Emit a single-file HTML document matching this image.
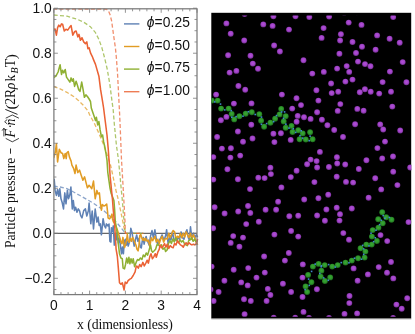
<!DOCTYPE html>
<html><head><meta charset="utf-8"><title>fig</title>
<style>
html,body{margin:0;padding:0;background:#fff;}
body{width:415px;height:334px;overflow:hidden;font-family:"Liberation Sans",sans-serif;}
svg{display:block;will-change:transform;}
.t{font-family:"Liberation Sans",sans-serif;font-size:13.8px;fill:#111;}
.s{font-family:"Liberation Serif",serif;fill:#111;}
</style></head><body>
<svg width="415" height="334" viewBox="0 0 415 334">
<defs>
<radialGradient id="gp" cx="50%" cy="45%" r="55%"><stop offset="0" stop-color="#b24fd8"/><stop offset="0.55" stop-color="#a345ca"/><stop offset="1" stop-color="#6f2c8c"/></radialGradient>
<radialGradient id="gg" cx="50%" cy="45%" r="55%"><stop offset="0" stop-color="#38a634"/><stop offset="0.55" stop-color="#2f982c"/><stop offset="1" stop-color="#1b621b"/></radialGradient>
<filter id="bl" x="-5%" y="-5%" width="110%" height="110%"><feGaussianBlur stdDeviation="0.35"/></filter>
<clipPath id="cp"><rect x="211.4" y="15.4" width="200" height="301.4"/></clipPath>
<clipPath id="cc"><rect x="53.9" y="8.2" width="144.9" height="286.4"/></clipPath>
</defs>
<rect width="415" height="334" fill="#fff"/>

<g fill="none" stroke-linejoin="round" stroke-linecap="butt" clip-path="url(#cc)">
<line x1="53.9" y1="233.3" x2="197.0" y2="233.3" stroke="#2b2b2b" stroke-width="0.9"/>
<path d="M53.7,186.1 L60.1,187.0 L66.9,188.7 L73.6,192.0 L80.4,195.8 L87.1,199.6 L93.8,203.5 L100.6,208.1 L102.8,209.8 L107.6,214.1 L112.5,218.4 L116.6,222.5 L120.9,227.5 L123.1,230.4 L125.5,233.3 L143.3,233.3" stroke="#5e81b5" stroke-width="1.3" stroke-dasharray="4 2.3" stroke-opacity="0.72"/>
<path d="M53.7,86.4 L60.1,88.9 L66.9,92.3 L73.6,96.5 L78.7,100.7 L83.7,105.7 L87.9,110.8 L89.6,114.7 L94.7,124.0 L98.9,133.3 L103.1,143.4 L106.5,152.7 L109.0,160.3 L110.2,163.6 L112.4,173.5 L114.9,185.3 L116.1,191.0 L117.8,197.7 L119.2,204.5 L120.7,211.2 L122.1,218.0 L123.8,226.8 L125.5,233.3 L143.3,233.3" stroke="#e19c24" stroke-width="1.3" stroke-dasharray="4 2.3" stroke-opacity="0.72"/>
<path d="M53.7,15.0 L66.9,16.1 L77.0,19.2 L83.7,22.2 L90.5,26.8 L95.5,32.7 L98.9,39.4 L101.9,47.8 L104.5,57.5 L107.3,69.5 L109.9,84.7 L111.6,98.2 L113.2,110.0 L114.4,124.9 L116.4,145.1 L118.5,160.0 L120.2,178.0 L121.3,190.0 L122.1,197.7 L122.9,207.3 L123.5,216.0 L124.2,221.8 L124.9,229.7 L125.5,233.3 L143.3,233.3" stroke="#8fb032" stroke-width="1.3" stroke-dasharray="4 2.3" stroke-opacity="0.72"/>
<path d="M53.1,9.0 L104.0,9.0 L106.5,9.3 L108.2,10.4 L110.0,14.5 L111.6,20.9 L113.7,36.0 L115.4,47.8 L116.3,57.0 L117.5,72.9 L118.8,98.2 L119.5,111.6 L120.2,127.0 L121.5,160.0 L123.3,190.0 L123.8,199.6 L124.5,211.2 L125.0,221.8 L125.4,233.3 L143.3,233.3" stroke="#eb6235" stroke-width="1.3" stroke-dasharray="4 2.3" stroke-opacity="0.72"/>
<path d="M53.7,182.0 L54.2,179.4 L55.1,190.4 L56.4,195.4 L57.6,189.5 L58.8,196.3 L59.8,188.7 L61.0,198.8 L62.1,202.2 L63.5,208.9 L64.8,192.9 L66.0,203.8 L67.4,190.4 L68.5,198.8 L69.9,194.6 L70.9,187.0 L72.3,208.9 L73.3,200.5 L74.5,210.6 L75.6,207.2 L77.0,212.3 L78.3,208.9 L79.5,210.6 L80.7,215.6 L82.0,217.9 L83.7,210.6 L85.4,208.9 L86.8,216.0 L88.4,210.6 L89.1,203.0 L90.8,223.8 L92.2,211.0 L93.5,228.9 L95.2,209.0 L96.9,222.1 L98.1,217.1 L99.2,225.5 L100.3,223.8 L101.4,234.8 L103.1,218.7 L104.3,225.5 L105.6,228.0 L106.4,223.9 L108.0,225.9 L109.0,224.0 L109.9,241.3 L110.9,242.0 L111.4,227.8 L112.3,231.6 L113.3,225.9 L114.3,245.1 L115.2,234.0 L116.2,240.0 L117.2,232.0 L118.3,243.0 L119.4,238.0 L120.5,246.1 L121.5,253.8 L122.5,247.0 L123.4,253.8 L124.4,241.3 L125.3,239.3 L126.3,245.1 L127.2,241.5 L128.2,246.1 L129.7,241.3 L130.8,228.3 L132.1,232.6 L133.3,241.3 L134.2,246.1 L135.5,239.3 L136.7,235.0 L137.9,241.3 L139.0,238.4 L140.3,247.1 L141.3,248.0 L142.2,241.3 L143.2,237.4 L144.1,244.2 L145.1,239.3 L146.1,236.5 L147.0,240.3 L148.0,242.2 L149.1,245.0 L150.5,236.3 L152.0,230.6 L153.4,237.8 L154.9,229.8 L156.3,239.2 L157.8,245.0 L159.2,240.7 L160.7,237.8 L162.1,234.9 L163.6,239.2 L164.5,239.1 L165.9,234.8 L166.6,229.7 L168.1,243.5 L169.5,237.7 L171.0,239.9 L172.4,231.9 L173.9,239.1 L175.3,239.9 L176.7,240.6 L178.2,237.7 L179.6,239.1 L181.1,231.9 L182.5,237.7 L184.0,239.1 L185.4,233.3 L186.9,229.7 L188.3,237.7 L189.3,239.9 L190.5,226.8 L191.9,239.1 L193.4,233.3 L194.8,237.7 L196.3,234.8 L197.7,237.0" stroke="#5e81b5" stroke-width="1.55"/>
<path d="M53.7,158.0 L54.2,156.1 L55.4,151.8 L56.4,143.7 L57.6,162.0 L59.3,149.3 L61.0,152.7 L62.6,153.5 L63.8,158.6 L65.2,153.5 L66.2,158.6 L66.9,152.7 L68.2,151.5 L69.4,156.9 L71.1,161.1 L71.9,165.1 L73.6,168.4 L75.0,173.5 L76.1,165.1 L77.8,172.6 L79.5,170.1 L81.2,175.2 L82.9,180.2 L84.6,176.9 L86.3,183.6 L87.4,187.8 L89.1,185.3 L90.5,187.0 L91.8,188.7 L93.5,181.1 L95.2,198.8 L96.9,190.4 L98.0,193.9 L99.4,192.9 L100.4,203.5 L101.4,210.2 L102.3,204.5 L103.8,205.9 L105.2,205.4 L106.7,204.0 L107.6,212.2 L108.1,218.0 L109.6,218.9 L111.0,216.5 L112.0,214.1 L112.5,218.9 L113.4,221.8 L115.1,223.9 L117.3,229.7 L119.1,235.5 L120.0,238.4 L121.0,242.2 L122.0,243.7 L122.9,237.4 L123.9,244.2 L124.6,247.5 L125.5,245.1 L126.5,240.3 L127.3,234.5 L128.2,240.8 L129.2,242.2 L130.4,238.4 L131.6,241.3 L132.6,237.4 L133.8,239.8 L134.8,242.7 L136.0,245.1 L136.9,249.0 L138.1,250.9 L139.0,245.1 L139.8,235.5 L140.8,234.5 L141.7,237.9 L142.9,240.3 L143.9,238.4 L144.8,240.8 L145.8,238.4 L146.7,240.8 L148.0,241.3 L148.4,240.0 L149.8,246.5 L151.3,237.8 L152.7,240.7 L154.9,236.3 L156.3,242.1 L157.8,239.2 L159.2,243.6 L160.7,239.2 L162.1,236.3 L163.6,242.1 L165.0,239.2 L165.9,238.4 L167.3,239.1 L168.8,233.3 L170.2,237.7 L171.7,234.1 L173.1,230.5 L174.6,231.9 L176.0,239.1 L177.5,236.2 L178.9,237.7 L180.4,233.3 L181.8,237.7 L183.3,233.3 L184.7,237.0 L186.1,231.9 L187.6,234.8 L189.0,237.7 L190.5,233.3 L191.9,239.1 L193.4,234.8 L194.8,237.7 L196.3,242.0 L197.7,244.9" stroke="#e19c24" stroke-width="1.55"/>
<path d="M53.7,77.6 L55.9,76.2 L58.1,72.0 L60.1,64.8 L61.5,74.5 L62.6,70.3 L63.8,72.9 L65.2,69.5 L66.5,77.1 L68.2,79.6 L69.9,82.1 L71.1,77.9 L72.3,81.3 L73.3,78.8 L74.6,86.4 L76.1,81.3 L77.5,85.5 L78.7,89.7 L80.0,91.4 L81.7,82.1 L83.1,89.7 L84.4,97.3 L85.9,94.8 L87.4,96.5 L89.1,99.0 L90.5,101.5 L91.3,108.0 L94.2,116.4 L95.5,120.6 L96.4,117.3 L97.7,124.9 L98.9,121.5 L100.1,129.9 L101.4,136.7 L102.6,135.0 L103.6,141.7 L104.8,146.8 L106.0,153.5 L107.0,160.3 L107.8,172.5 L110.0,188.0 L111.2,193.5 L112.8,197.5 L113.9,200.6 L114.6,209.3 L115.3,221.8 L116.6,228.9 L117.5,236.0 L118.3,243.6 L119.5,253.7 L120.9,258.0 L122.3,258.7 L123.1,268.1 L124.5,268.9 L125.5,264.5 L126.7,258.0 L127.8,263.1 L128.9,257.3 L129.9,263.8 L131.0,258.7 L132.2,263.1 L133.2,258.7 L134.6,266.7 L136.1,262.4 L137.5,259.5 L139.0,260.2 L140.4,258.0 L141.9,259.5 L143.3,255.1 L144.8,256.6 L146.2,253.0 L147.6,255.1 L149.1,250.1 L150.5,245.0 L151.6,250.8 L152.7,252.2 L154.2,250.8 L155.6,249.3 L156.9,244.9 L158.0,244.2 L159.9,246.5 L161.6,244.9 L163.0,249.3 L164.5,247.8 L165.6,251.4 L167.1,250.0 L168.5,243.5 L170.0,240.6 L171.4,243.5 L172.8,239.1 L174.3,242.0 L175.7,237.7 L177.2,240.6 L178.6,242.7 L180.1,239.9 L181.5,242.0 L183.0,240.6 L184.4,243.5 L185.9,244.9 L187.3,245.6 L188.7,240.6 L190.2,239.9 L191.6,237.7 L193.1,241.3 L194.5,239.1 L196.0,242.0 L197.4,240.6" stroke="#8fb032" stroke-width="1.55"/>
<path d="M53.7,29.3 L55.1,29.0 L56.4,35.2 L57.6,27.6 L58.8,25.1 L60.1,26.8 L61.5,23.9 L62.6,24.2 L64.3,31.0 L66.0,29.3 L67.7,30.1 L69.4,27.6 L71.1,25.6 L72.8,35.2 L74.5,31.8 L76.1,31.0 L77.8,36.9 L79.0,34.4 L80.4,40.3 L82.0,37.7 L83.7,41.9 L85.4,43.6 L86.8,41.9 L87.9,48.7 L89.1,47.8 L90.5,52.9 L92.2,56.3 L93.5,59.6 L95.5,64.4 L98.9,76.2 L100.6,89.7 L102.3,99.8 L103.6,108.0 L105.3,121.5 L107.0,135.0 L108.2,148.5 L109.3,163.6 L110.2,176.9 L111.7,192.0 L112.5,199.6 L113.2,209.3 L114.4,221.8 L114.9,228.9 L116.1,249.1 L117.3,256.0 L118.3,267.6 L119.5,282.7 L120.9,284.2 L122.3,282.7 L124.1,290.0 L125.2,282.0 L126.7,283.5 L128.1,280.6 L129.9,279.1 L131.3,278.4 L133.2,275.5 L135.1,271.9 L136.1,266.8 L136.8,266.0 L138.3,268.1 L139.7,264.5 L141.1,266.7 L142.9,262.4 L144.3,266.0 L145.8,263.1 L147.2,260.2 L148.4,263.1 L149.8,256.6 L151.0,253.7 L152.4,258.7 L153.9,256.6 L155.3,253.7 L156.3,257.3 L157.8,252.2 L159.2,249.3 L160.1,244.9 L161.6,247.8 L163.0,246.5 L164.5,243.5 L165.9,247.1 L167.3,244.2 L168.8,248.5 L170.2,245.6 L171.7,247.1 L173.1,247.8 L174.6,243.5 L176.0,244.9 L177.5,240.6 L178.9,242.7 L180.4,244.9 L181.8,245.6 L183.3,247.1 L184.7,244.2 L186.1,242.7 L187.6,244.9 L189.0,242.7 L190.5,244.2 L191.9,244.9 L193.4,244.2 L194.8,244.9 L196.3,243.5 L197.7,239.1" stroke="#eb6235" stroke-width="1.55"/>
</g>
<g stroke="#7a7a7a" stroke-width="0.8" fill="none">
<rect x="53.9" y="8.8" width="143.1" height="285.8" stroke-width="1.25"/>
<path d="M53.80,294.6 v-4.0 M53.80,8.8 v4.0 M60.96,294.6 v-2.5 M60.96,8.8 v2.5 M68.12,294.6 v-2.5 M68.12,8.8 v2.5 M75.28,294.6 v-2.5 M75.28,8.8 v2.5 M82.44,294.6 v-2.5 M82.44,8.8 v2.5 M89.60,294.6 v-4.0 M89.60,8.8 v4.0 M96.76,294.6 v-2.5 M96.76,8.8 v2.5 M103.92,294.6 v-2.5 M103.92,8.8 v2.5 M111.08,294.6 v-2.5 M111.08,8.8 v2.5 M118.24,294.6 v-2.5 M118.24,8.8 v2.5 M125.40,294.6 v-4.0 M125.40,8.8 v4.0 M132.56,294.6 v-2.5 M132.56,8.8 v2.5 M139.72,294.6 v-2.5 M139.72,8.8 v2.5 M146.88,294.6 v-2.5 M146.88,8.8 v2.5 M154.04,294.6 v-2.5 M154.04,8.8 v2.5 M161.20,294.6 v-4.0 M161.20,8.8 v4.0 M168.36,294.6 v-2.5 M168.36,8.8 v2.5 M175.52,294.6 v-2.5 M175.52,8.8 v2.5 M182.68,294.6 v-2.5 M182.68,8.8 v2.5 M189.84,294.6 v-2.5 M189.84,8.8 v2.5 M197.00,294.6 v-4.0 M197.00,8.8 v4.0 M53.9,289.57 h2.5 M197.0,289.57 h-2.5 M53.9,278.32 h4.0 M197.0,278.32 h-4.0 M53.9,267.06 h2.5 M197.0,267.06 h-2.5 M53.9,255.81 h2.5 M197.0,255.81 h-2.5 M53.9,244.56 h2.5 M197.0,244.56 h-2.5 M53.9,233.30 h4.0 M197.0,233.30 h-4.0 M53.9,222.05 h2.5 M197.0,222.05 h-2.5 M53.9,210.79 h2.5 M197.0,210.79 h-2.5 M53.9,199.53 h2.5 M197.0,199.53 h-2.5 M53.9,188.28 h4.0 M197.0,188.28 h-4.0 M53.9,177.03 h2.5 M197.0,177.03 h-2.5 M53.9,165.77 h2.5 M197.0,165.77 h-2.5 M53.9,154.51 h2.5 M197.0,154.51 h-2.5 M53.9,143.26 h4.0 M197.0,143.26 h-4.0 M53.9,132.00 h2.5 M197.0,132.00 h-2.5 M53.9,120.75 h2.5 M197.0,120.75 h-2.5 M53.9,109.50 h2.5 M197.0,109.50 h-2.5 M53.9,98.24 h4.0 M197.0,98.24 h-4.0 M53.9,86.99 h2.5 M197.0,86.99 h-2.5 M53.9,75.73 h2.5 M197.0,75.73 h-2.5 M53.9,64.48 h2.5 M197.0,64.48 h-2.5 M53.9,53.22 h4.0 M197.0,53.22 h-4.0 M53.9,41.97 h2.5 M197.0,41.97 h-2.5 M53.9,30.71 h2.5 M197.0,30.71 h-2.5 M53.9,19.46 h2.5 M197.0,19.46 h-2.5 M53.9,8.20 h4.0 M197.0,8.20 h-4.0"/>
</g>
<text class="t" x="51.7" y="12.5" text-anchor="end">1.0</text>
<text class="t" x="51.7" y="57.5" text-anchor="end">0.8</text>
<text class="t" x="51.7" y="102.5" text-anchor="end">0.6</text>
<text class="t" x="51.7" y="147.6" text-anchor="end">0.4</text>
<text class="t" x="51.7" y="192.6" text-anchor="end">0.2</text>
<text class="t" x="51.7" y="237.6" text-anchor="end">0.0</text>
<text class="t" x="51.7" y="282.6" text-anchor="end">−0.2</text>
<text class="t" x="53.8" y="310.1" text-anchor="middle">0</text>
<text class="t" x="89.6" y="310.1" text-anchor="middle">1</text>
<text class="t" x="125.4" y="310.1" text-anchor="middle">2</text>
<text class="t" x="161.2" y="310.1" text-anchor="middle">3</text>
<text class="t" x="197.0" y="310.1" text-anchor="middle">4</text>
<text class="s" x="125" y="329" text-anchor="middle" font-size="13.8" textLength="95.8" lengthAdjust="spacing">x (dimensionless)</text>
<g transform="translate(14.9,248) rotate(-90)" font-family="Liberation Serif" font-size="13.7" fill="#111">
<text class="s" x="0" y="0" textLength="90.3" lengthAdjust="spacing">Particle pressure</text>
<path d="M94.3,-4.4 H99.5" stroke="#111" stroke-width="0.9" fill="none"/>
<path d="M109.6,-9.2 L106.2,-2.6 L109.6,4.0" stroke="#111" stroke-width="0.8" fill="none"/>
<text class="s" x="110.6" y="0" font-style="italic">F</text>
<path d="M111.6,-11 H119.6 M117.4,-12.8 L119.8,-11 L117.4,-9.2" stroke="#111" stroke-width="0.8" fill="none"/>
<text class="s" x="119.4" y="0">·</text>
<text class="s" x="122.6" y="0" font-style="italic">n</text>
<path d="M124.0,-7.6 L126.3,-10.2 L128.6,-7.6" stroke="#111" stroke-width="0.8" fill="none"/>
<path d="M129.8,-9.2 L133.0,-2.6 L129.8,4.0" stroke="#111" stroke-width="0.8" fill="none"/>
<path d="M133.6,2.6 L138.6,-9.6" stroke="#111" stroke-width="0.9" fill="none"/>
<text class="s" x="138.4" y="0.8" font-size="15.5">(</text>
<text class="s" x="143.2" y="0">2</text>
<text class="s" x="149.9" y="0">R</text>
<text class="s" x="158.8" y="0" font-style="italic">ρ</text>
<text class="s" x="166.6" y="0">k</text>
<text class="s" x="174.6" y="3.2" font-size="10" font-style="italic">B</text>
<text class="s" x="180.8" y="0">T</text>
<text class="s" x="188.8" y="0.8" font-size="15.5">)</text>
</g>
<line x1="124" y1="23.9" x2="139.4" y2="23.9" stroke="#5e81b5" stroke-width="1.4"/>
<text class="t" x="146.8" y="26.9" textLength="43.2" lengthAdjust="spacing"><tspan font-style="italic">ϕ</tspan>=0.25</text>
<line x1="124" y1="46.5" x2="139.4" y2="46.5" stroke="#e19c24" stroke-width="1.4"/>
<text class="t" x="146.8" y="49.5" textLength="43.2" lengthAdjust="spacing"><tspan font-style="italic">ϕ</tspan>=0.50</text>
<line x1="124" y1="69.1" x2="139.4" y2="69.1" stroke="#8fb032" stroke-width="1.4"/>
<text class="t" x="146.8" y="72.1" textLength="43.2" lengthAdjust="spacing"><tspan font-style="italic">ϕ</tspan>=0.75</text>
<line x1="124" y1="91.7" x2="139.4" y2="91.7" stroke="#ee7c55" stroke-width="1.4"/>
<text class="t" x="146.8" y="94.7" textLength="43.2" lengthAdjust="spacing"><tspan font-style="italic">ϕ</tspan>=1.00</text>
<rect x="211.3" y="12.8" width="199.9" height="305.8" fill="#000"/><line x1="211.3" y1="319.1" x2="411.4" y2="319.1" stroke="#b5b5b5" stroke-width="0.8"/>
<g clip-path="url(#cp)">
<g filter="url(#bl)">
<circle cx="226.4" cy="23.4" r="2.95" fill="url(#gp)"/>
<circle cx="244.6" cy="14.0" r="2.95" fill="url(#gp)"/>
<circle cx="263.3" cy="24.4" r="2.95" fill="url(#gp)"/>
<circle cx="272.6" cy="25.9" r="2.95" fill="url(#gp)"/>
<circle cx="273.4" cy="16.3" r="2.95" fill="url(#gp)"/>
<circle cx="295.5" cy="16.3" r="2.95" fill="url(#gp)"/>
<circle cx="289.0" cy="29.6" r="2.95" fill="url(#gp)"/>
<circle cx="230.7" cy="33.7" r="2.95" fill="url(#gp)"/>
<circle cx="244.2" cy="40.5" r="2.95" fill="url(#gp)"/>
<circle cx="274.1" cy="45.5" r="2.95" fill="url(#gp)"/>
<circle cx="279.9" cy="51.5" r="2.95" fill="url(#gp)"/>
<circle cx="228.1" cy="55.3" r="2.95" fill="url(#gp)"/>
<circle cx="250.5" cy="55.8" r="2.95" fill="url(#gp)"/>
<circle cx="252.8" cy="63.6" r="2.95" fill="url(#gp)"/>
<circle cx="258.0" cy="68.8" r="2.95" fill="url(#gp)"/>
<circle cx="236.4" cy="70.9" r="2.95" fill="url(#gp)"/>
<circle cx="229.6" cy="72.6" r="2.95" fill="url(#gp)"/>
<circle cx="303.5" cy="60.3" r="2.95" fill="url(#gp)"/>
<circle cx="329.1" cy="16.6" r="2.95" fill="url(#gp)"/>
<circle cx="344.2" cy="12.6" r="2.95" fill="url(#gp)"/>
<circle cx="356.9" cy="12.2" r="2.95" fill="url(#gp)"/>
<circle cx="393.2" cy="17.1" r="2.95" fill="url(#gp)"/>
<circle cx="348.7" cy="22.6" r="2.95" fill="url(#gp)"/>
<circle cx="361.5" cy="24.9" r="2.95" fill="url(#gp)"/>
<circle cx="323.6" cy="28.1" r="2.95" fill="url(#gp)"/>
<circle cx="340.9" cy="34.2" r="2.95" fill="url(#gp)"/>
<circle cx="377.1" cy="35.4" r="2.95" fill="url(#gp)"/>
<circle cx="321.6" cy="37.9" r="2.95" fill="url(#gp)"/>
<circle cx="340.1" cy="40.5" r="2.95" fill="url(#gp)"/>
<circle cx="352.5" cy="42.0" r="2.95" fill="url(#gp)"/>
<circle cx="389.6" cy="38.7" r="2.95" fill="url(#gp)"/>
<circle cx="399.7" cy="42.7" r="2.95" fill="url(#gp)"/>
<circle cx="362.0" cy="46.7" r="2.95" fill="url(#gp)"/>
<circle cx="375.6" cy="49.7" r="2.95" fill="url(#gp)"/>
<circle cx="339.4" cy="53.8" r="2.95" fill="url(#gp)"/>
<circle cx="356.0" cy="53.0" r="2.95" fill="url(#gp)"/>
<circle cx="358.0" cy="61.6" r="2.95" fill="url(#gp)"/>
<circle cx="365.0" cy="64.1" r="2.95" fill="url(#gp)"/>
<circle cx="370.5" cy="66.3" r="2.95" fill="url(#gp)"/>
<circle cx="402.7" cy="62.1" r="2.95" fill="url(#gp)"/>
<circle cx="346.7" cy="66.1" r="2.95" fill="url(#gp)"/>
<circle cx="337.1" cy="68.6" r="2.95" fill="url(#gp)"/>
<circle cx="349.2" cy="71.9" r="2.95" fill="url(#gp)"/>
<circle cx="323.8" cy="71.9" r="2.95" fill="url(#gp)"/>
<circle cx="312.3" cy="73.6" r="2.95" fill="url(#gp)"/>
<circle cx="389.9" cy="71.6" r="2.95" fill="url(#gp)"/>
<circle cx="352.5" cy="79.6" r="2.95" fill="url(#gp)"/>
<circle cx="345.4" cy="81.6" r="2.95" fill="url(#gp)"/>
<circle cx="331.1" cy="83.5" r="2.95" fill="url(#gp)"/>
<circle cx="382.6" cy="82.1" r="2.95" fill="url(#gp)"/>
<circle cx="406.4" cy="82.2" r="2.95" fill="url(#gp)"/>
<circle cx="309.3" cy="17.0" r="2.95" fill="url(#gp)"/>
<circle cx="238.4" cy="86.0" r="2.95" fill="url(#gp)"/>
<circle cx="245.2" cy="89.8" r="2.95" fill="url(#gp)"/>
<circle cx="216.1" cy="94.6" r="2.95" fill="url(#gp)"/>
<circle cx="281.9" cy="94.6" r="2.95" fill="url(#gp)"/>
<circle cx="296.5" cy="98.3" r="2.95" fill="url(#gp)"/>
<circle cx="301.0" cy="105.1" r="2.95" fill="url(#gp)"/>
<circle cx="233.9" cy="103.6" r="2.95" fill="url(#gp)"/>
<circle cx="251.5" cy="103.4" r="2.95" fill="url(#gp)"/>
<circle cx="292.2" cy="108.6" r="2.95" fill="url(#gp)"/>
<circle cx="226.4" cy="116.9" r="2.95" fill="url(#gp)"/>
<circle cx="220.9" cy="120.2" r="2.95" fill="url(#gp)"/>
<circle cx="297.7" cy="115.9" r="2.95" fill="url(#gp)"/>
<circle cx="304.0" cy="117.2" r="2.95" fill="url(#gp)"/>
<circle cx="296.6" cy="121.7" r="2.95" fill="url(#gp)"/>
<circle cx="251.3" cy="124.7" r="2.95" fill="url(#gp)"/>
<circle cx="237.9" cy="131.5" r="2.95" fill="url(#gp)"/>
<circle cx="217.1" cy="137.0" r="2.95" fill="url(#gp)"/>
<circle cx="252.5" cy="138.5" r="2.95" fill="url(#gp)"/>
<circle cx="243.0" cy="141.8" r="2.95" fill="url(#gp)"/>
<circle cx="273.4" cy="133.8" r="2.95" fill="url(#gp)"/>
<circle cx="280.9" cy="133.3" r="2.95" fill="url(#gp)"/>
<circle cx="274.4" cy="142.1" r="2.95" fill="url(#gp)"/>
<circle cx="290.7" cy="139.9" r="2.95" fill="url(#gp)"/>
<circle cx="221.9" cy="148.6" r="2.95" fill="url(#gp)"/>
<circle cx="230.9" cy="148.3" r="2.95" fill="url(#gp)"/>
<circle cx="240.2" cy="155.6" r="2.95" fill="url(#gp)"/>
<circle cx="230.4" cy="157.6" r="2.95" fill="url(#gp)"/>
<circle cx="213.3" cy="157.1" r="2.95" fill="url(#gp)"/>
<circle cx="316.4" cy="90.3" r="2.95" fill="url(#gp)"/>
<circle cx="331.7" cy="93.1" r="2.95" fill="url(#gp)"/>
<circle cx="338.2" cy="91.8" r="2.95" fill="url(#gp)"/>
<circle cx="364.9" cy="89.3" r="2.95" fill="url(#gp)"/>
<circle cx="359.8" cy="92.3" r="2.95" fill="url(#gp)"/>
<circle cx="370.7" cy="91.8" r="2.95" fill="url(#gp)"/>
<circle cx="379.2" cy="93.6" r="2.95" fill="url(#gp)"/>
<circle cx="391.0" cy="91.8" r="2.95" fill="url(#gp)"/>
<circle cx="318.4" cy="100.6" r="2.95" fill="url(#gp)"/>
<circle cx="340.3" cy="104.1" r="2.95" fill="url(#gp)"/>
<circle cx="337.7" cy="110.9" r="2.95" fill="url(#gp)"/>
<circle cx="357.3" cy="108.9" r="2.95" fill="url(#gp)"/>
<circle cx="363.6" cy="110.7" r="2.95" fill="url(#gp)"/>
<circle cx="392.3" cy="106.6" r="2.95" fill="url(#gp)"/>
<circle cx="317.1" cy="112.2" r="2.95" fill="url(#gp)"/>
<circle cx="310.6" cy="118.9" r="2.95" fill="url(#gp)"/>
<circle cx="321.9" cy="119.7" r="2.95" fill="url(#gp)"/>
<circle cx="327.4" cy="125.2" r="2.95" fill="url(#gp)"/>
<circle cx="334.2" cy="130.0" r="2.95" fill="url(#gp)"/>
<circle cx="355.1" cy="124.2" r="2.95" fill="url(#gp)"/>
<circle cx="380.2" cy="124.5" r="2.95" fill="url(#gp)"/>
<circle cx="383.2" cy="129.5" r="2.95" fill="url(#gp)"/>
<circle cx="343.0" cy="137.0" r="2.95" fill="url(#gp)"/>
<circle cx="385.0" cy="141.6" r="2.95" fill="url(#gp)"/>
<circle cx="377.4" cy="148.1" r="2.95" fill="url(#gp)"/>
<circle cx="319.9" cy="151.9" r="2.95" fill="url(#gp)"/>
<circle cx="336.9" cy="157.2" r="2.95" fill="url(#gp)"/>
<circle cx="310.6" cy="159.6" r="2.95" fill="url(#gp)"/>
<circle cx="316.6" cy="161.1" r="2.95" fill="url(#gp)"/>
<circle cx="307.1" cy="164.2" r="2.95" fill="url(#gp)"/>
<circle cx="366.4" cy="160.3" r="2.95" fill="url(#gp)"/>
<circle cx="382.2" cy="158.5" r="2.95" fill="url(#gp)"/>
<circle cx="393.0" cy="156.5" r="2.95" fill="url(#gp)"/>
<circle cx="337.2" cy="163.5" r="2.95" fill="url(#gp)"/>
<circle cx="345.2" cy="164.5" r="2.95" fill="url(#gp)"/>
<circle cx="400.2" cy="130.5" r="2.95" fill="url(#gp)"/>
<circle cx="227.4" cy="169.3" r="2.95" fill="url(#gp)"/>
<circle cx="270.4" cy="167.8" r="2.95" fill="url(#gp)"/>
<circle cx="270.9" cy="174.1" r="2.95" fill="url(#gp)"/>
<circle cx="296.6" cy="170.8" r="2.95" fill="url(#gp)"/>
<circle cx="290.8" cy="177.1" r="2.95" fill="url(#gp)"/>
<circle cx="213.3" cy="179.6" r="2.95" fill="url(#gp)"/>
<circle cx="237.9" cy="179.3" r="2.95" fill="url(#gp)"/>
<circle cx="258.3" cy="177.8" r="2.95" fill="url(#gp)"/>
<circle cx="264.6" cy="178.1" r="2.95" fill="url(#gp)"/>
<circle cx="281.4" cy="187.4" r="2.95" fill="url(#gp)"/>
<circle cx="250.0" cy="189.1" r="2.95" fill="url(#gp)"/>
<circle cx="278.1" cy="201.7" r="2.95" fill="url(#gp)"/>
<circle cx="304.2" cy="199.5" r="2.95" fill="url(#gp)"/>
<circle cx="214.6" cy="207.2" r="2.95" fill="url(#gp)"/>
<circle cx="248.0" cy="206.0" r="2.95" fill="url(#gp)"/>
<circle cx="224.6" cy="213.5" r="2.95" fill="url(#gp)"/>
<circle cx="238.2" cy="211.5" r="2.95" fill="url(#gp)"/>
<circle cx="250.3" cy="213.0" r="2.95" fill="url(#gp)"/>
<circle cx="265.6" cy="209.7" r="2.95" fill="url(#gp)"/>
<circle cx="276.1" cy="209.7" r="2.95" fill="url(#gp)"/>
<circle cx="289.3" cy="216.3" r="2.95" fill="url(#gp)"/>
<circle cx="298.2" cy="215.7" r="2.95" fill="url(#gp)"/>
<circle cx="246.2" cy="224.1" r="2.95" fill="url(#gp)"/>
<circle cx="258.8" cy="221.8" r="2.95" fill="url(#gp)"/>
<circle cx="213.1" cy="228.3" r="2.95" fill="url(#gp)"/>
<circle cx="291.1" cy="231.0" r="2.95" fill="url(#gp)"/>
<circle cx="274.4" cy="234.6" r="2.95" fill="url(#gp)"/>
<circle cx="298.2" cy="236.6" r="2.95" fill="url(#gp)"/>
<circle cx="233.2" cy="236.1" r="2.95" fill="url(#gp)"/>
<circle cx="243.0" cy="237.6" r="2.95" fill="url(#gp)"/>
<circle cx="230.7" cy="242.9" r="2.95" fill="url(#gp)"/>
<circle cx="239.4" cy="246.7" r="2.95" fill="url(#gp)"/>
<circle cx="317.1" cy="167.5" r="2.95" fill="url(#gp)"/>
<circle cx="328.9" cy="167.0" r="2.95" fill="url(#gp)"/>
<circle cx="358.8" cy="169.0" r="2.95" fill="url(#gp)"/>
<circle cx="393.2" cy="171.8" r="2.95" fill="url(#gp)"/>
<circle cx="336.7" cy="176.8" r="2.95" fill="url(#gp)"/>
<circle cx="375.2" cy="178.3" r="2.95" fill="url(#gp)"/>
<circle cx="314.4" cy="182.1" r="2.95" fill="url(#gp)"/>
<circle cx="346.0" cy="181.9" r="2.95" fill="url(#gp)"/>
<circle cx="353.1" cy="182.6" r="2.95" fill="url(#gp)"/>
<circle cx="381.2" cy="189.4" r="2.95" fill="url(#gp)"/>
<circle cx="328.2" cy="194.7" r="2.95" fill="url(#gp)"/>
<circle cx="318.4" cy="198.2" r="2.95" fill="url(#gp)"/>
<circle cx="368.6" cy="197.7" r="2.95" fill="url(#gp)"/>
<circle cx="326.4" cy="209.5" r="2.95" fill="url(#gp)"/>
<circle cx="336.7" cy="207.7" r="2.95" fill="url(#gp)"/>
<circle cx="351.8" cy="208.5" r="2.95" fill="url(#gp)"/>
<circle cx="340.0" cy="214.3" r="2.95" fill="url(#gp)"/>
<circle cx="317.1" cy="215.5" r="2.95" fill="url(#gp)"/>
<circle cx="324.9" cy="220.8" r="2.95" fill="url(#gp)"/>
<circle cx="339.5" cy="220.6" r="2.95" fill="url(#gp)"/>
<circle cx="343.3" cy="233.1" r="2.95" fill="url(#gp)"/>
<circle cx="349.0" cy="239.8" r="2.95" fill="url(#gp)"/>
<circle cx="380.5" cy="235.1" r="2.95" fill="url(#gp)"/>
<circle cx="387.2" cy="241.1" r="2.95" fill="url(#gp)"/>
<circle cx="397.4" cy="185.1" r="2.95" fill="url(#gp)"/>
<circle cx="410.2" cy="167.5" r="2.95" fill="url(#gp)"/>
<circle cx="408.5" cy="222.1" r="2.95" fill="url(#gp)"/>
<circle cx="264.1" cy="256.5" r="2.95" fill="url(#gp)"/>
<circle cx="288.8" cy="253.0" r="2.95" fill="url(#gp)"/>
<circle cx="284.9" cy="260.6" r="2.95" fill="url(#gp)"/>
<circle cx="302.8" cy="264.4" r="2.95" fill="url(#gp)"/>
<circle cx="211.6" cy="266.6" r="2.95" fill="url(#gp)"/>
<circle cx="233.7" cy="269.8" r="2.95" fill="url(#gp)"/>
<circle cx="248.2" cy="268.1" r="2.95" fill="url(#gp)"/>
<circle cx="264.8" cy="272.6" r="2.95" fill="url(#gp)"/>
<circle cx="256.5" cy="277.6" r="2.95" fill="url(#gp)"/>
<circle cx="224.4" cy="280.7" r="2.95" fill="url(#gp)"/>
<circle cx="241.2" cy="282.4" r="2.95" fill="url(#gp)"/>
<circle cx="247.7" cy="285.4" r="2.95" fill="url(#gp)"/>
<circle cx="282.9" cy="283.7" r="2.95" fill="url(#gp)"/>
<circle cx="302.5" cy="277.6" r="2.95" fill="url(#gp)"/>
<circle cx="267.8" cy="288.9" r="2.95" fill="url(#gp)"/>
<circle cx="210.5" cy="289.4" r="2.95" fill="url(#gp)"/>
<circle cx="218.6" cy="292.0" r="2.95" fill="url(#gp)"/>
<circle cx="291.1" cy="292.0" r="2.95" fill="url(#gp)"/>
<circle cx="270.4" cy="295.0" r="2.95" fill="url(#gp)"/>
<circle cx="302.5" cy="297.0" r="2.95" fill="url(#gp)"/>
<circle cx="213.6" cy="301.0" r="2.95" fill="url(#gp)"/>
<circle cx="244.0" cy="299.2" r="2.95" fill="url(#gp)"/>
<circle cx="250.8" cy="301.0" r="2.95" fill="url(#gp)"/>
<circle cx="266.6" cy="301.0" r="2.95" fill="url(#gp)"/>
<circle cx="244.6" cy="314.3" r="2.95" fill="url(#gp)"/>
<circle cx="273.7" cy="317.8" r="2.95" fill="url(#gp)"/>
<circle cx="295.2" cy="317.8" r="2.95" fill="url(#gp)"/>
<circle cx="303.5" cy="311.9" r="2.95" fill="url(#gp)"/>
<circle cx="391.0" cy="262.0" r="2.95" fill="url(#gp)"/>
<circle cx="378.7" cy="267.1" r="2.95" fill="url(#gp)"/>
<circle cx="353.6" cy="268.4" r="2.95" fill="url(#gp)"/>
<circle cx="367.9" cy="274.4" r="2.95" fill="url(#gp)"/>
<circle cx="387.0" cy="272.7" r="2.95" fill="url(#gp)"/>
<circle cx="393.3" cy="278.4" r="2.95" fill="url(#gp)"/>
<circle cx="357.6" cy="280.7" r="2.95" fill="url(#gp)"/>
<circle cx="316.9" cy="289.2" r="2.95" fill="url(#gp)"/>
<circle cx="349.5" cy="296.0" r="2.95" fill="url(#gp)"/>
<circle cx="349.3" cy="303.1" r="2.95" fill="url(#gp)"/>
<circle cx="309.0" cy="317.9" r="2.95" fill="url(#gp)"/>
<circle cx="329.0" cy="318.0" r="2.95" fill="url(#gp)"/>
<circle cx="344.5" cy="313.9" r="2.95" fill="url(#gp)"/>
<circle cx="357.1" cy="313.4" r="2.95" fill="url(#gp)"/>
<circle cx="393.1" cy="318.0" r="2.95" fill="url(#gp)"/>
<circle cx="396.4" cy="304.6" r="2.95" fill="url(#gp)"/>
<circle cx="401.7" cy="308.8" r="2.95" fill="url(#gp)"/>
<circle cx="407.2" cy="298.3" r="2.95" fill="url(#gp)"/>
<circle cx="211.8" cy="100.6" r="2.95" fill="url(#gg)"/>
<circle cx="217.6" cy="100.6" r="2.95" fill="url(#gg)"/>
<circle cx="221.1" cy="108.6" r="2.95" fill="url(#gg)"/>
<circle cx="228.6" cy="108.6" r="2.95" fill="url(#gg)"/>
<circle cx="231.7" cy="113.9" r="2.95" fill="url(#gg)"/>
<circle cx="234.2" cy="119.4" r="2.95" fill="url(#gg)"/>
<circle cx="239.4" cy="116.2" r="2.95" fill="url(#gg)"/>
<circle cx="245.7" cy="113.7" r="2.95" fill="url(#gg)"/>
<circle cx="251.8" cy="112.2" r="2.95" fill="url(#gg)"/>
<circle cx="259.3" cy="114.2" r="2.95" fill="url(#gg)"/>
<circle cx="261.1" cy="120.7" r="2.95" fill="url(#gg)"/>
<circle cx="264.1" cy="126.7" r="2.95" fill="url(#gg)"/>
<circle cx="270.4" cy="122.7" r="2.95" fill="url(#gg)"/>
<circle cx="275.1" cy="118.7" r="2.95" fill="url(#gg)"/>
<circle cx="279.6" cy="114.4" r="2.95" fill="url(#gg)"/>
<circle cx="281.2" cy="108.9" r="2.95" fill="url(#gg)"/>
<circle cx="285.7" cy="116.2" r="2.95" fill="url(#gg)"/>
<circle cx="283.7" cy="121.5" r="2.95" fill="url(#gg)"/>
<circle cx="285.7" cy="127.7" r="2.95" fill="url(#gg)"/>
<circle cx="291.5" cy="126.0" r="2.95" fill="url(#gg)"/>
<circle cx="292.5" cy="132.0" r="2.95" fill="url(#gg)"/>
<circle cx="298.2" cy="130.3" r="2.95" fill="url(#gg)"/>
<circle cx="302.7" cy="133.4" r="2.95" fill="url(#gg)"/>
<circle cx="299.6" cy="139.3" r="2.95" fill="url(#gg)"/>
<circle cx="305.8" cy="139.5" r="2.95" fill="url(#gg)"/>
<circle cx="312.6" cy="139.3" r="2.95" fill="url(#gg)"/>
<circle cx="310.1" cy="132.3" r="2.95" fill="url(#gg)"/>
<circle cx="382.2" cy="212.3" r="2.95" fill="url(#gg)"/>
<circle cx="386.2" cy="217.3" r="2.95" fill="url(#gg)"/>
<circle cx="391.5" cy="219.8" r="2.95" fill="url(#gg)"/>
<circle cx="378.2" cy="219.3" r="2.95" fill="url(#gg)"/>
<circle cx="382.7" cy="223.3" r="2.95" fill="url(#gg)"/>
<circle cx="378.4" cy="227.8" r="2.95" fill="url(#gg)"/>
<circle cx="372.7" cy="230.1" r="2.95" fill="url(#gg)"/>
<circle cx="371.9" cy="236.6" r="2.95" fill="url(#gg)"/>
<circle cx="376.9" cy="241.0" r="2.95" fill="url(#gg)"/>
<circle cx="371.7" cy="244.6" r="2.95" fill="url(#gg)"/>
<circle cx="366.3" cy="244.6" r="2.95" fill="url(#gg)"/>
<circle cx="360.6" cy="248.3" r="2.95" fill="url(#gg)"/>
<circle cx="365.4" cy="251.6" r="2.95" fill="url(#gg)"/>
<circle cx="364.6" cy="257.6" r="2.95" fill="url(#gg)"/>
<circle cx="358.1" cy="258.3" r="2.95" fill="url(#gg)"/>
<circle cx="351.8" cy="260.6" r="2.95" fill="url(#gg)"/>
<circle cx="345.5" cy="262.6" r="2.95" fill="url(#gg)"/>
<circle cx="337.7" cy="265.1" r="2.95" fill="url(#gg)"/>
<circle cx="332.2" cy="266.6" r="2.95" fill="url(#gg)"/>
<circle cx="324.7" cy="265.1" r="2.95" fill="url(#gg)"/>
<circle cx="318.6" cy="263.9" r="2.95" fill="url(#gg)"/>
<circle cx="312.9" cy="266.6" r="2.95" fill="url(#gg)"/>
<circle cx="308.1" cy="274.9" r="2.95" fill="url(#gg)"/>
<circle cx="311.4" cy="282.2" r="2.95" fill="url(#gg)"/>
<circle cx="305.6" cy="286.5" r="2.95" fill="url(#gg)"/>
<circle cx="307.1" cy="292.0" r="2.95" fill="url(#gg)"/>
<circle cx="321.4" cy="270.7" r="2.95" fill="url(#gg)"/>
<circle cx="320.7" cy="276.7" r="2.95" fill="url(#gg)"/>
<circle cx="324.9" cy="281.0" r="2.95" fill="url(#gg)"/>
<circle cx="330.2" cy="277.4" r="2.95" fill="url(#gg)"/>
<rect x="213.9" y="101.1" width="1.6" height="1.6" fill="#3f86cc"/>
<rect x="219.7" y="103.3" width="1.6" height="1.6" fill="#3f86cc"/>
<rect x="224.0" y="109.1" width="1.6" height="1.6" fill="#3f86cc"/>
<rect x="230.5" y="109.8" width="1.6" height="1.6" fill="#3f86cc"/>
<rect x="231.0" y="116.4" width="1.6" height="1.6" fill="#3f86cc"/>
<rect x="235.3" y="115.9" width="1.6" height="1.6" fill="#3f86cc"/>
<rect x="242.2" y="115.4" width="1.6" height="1.6" fill="#3f86cc"/>
<rect x="247.6" y="110.9" width="1.6" height="1.6" fill="#3f86cc"/>
<rect x="254.4" y="113.7" width="1.6" height="1.6" fill="#3f86cc"/>
<rect x="260.7" y="116.3" width="1.6" height="1.6" fill="#3f86cc"/>
<rect x="260.6" y="123.5" width="1.6" height="1.6" fill="#3f86cc"/>
<rect x="265.8" y="122.8" width="1.6" height="1.6" fill="#3f86cc"/>
<rect x="272.8" y="120.9" width="1.6" height="1.6" fill="#3f86cc"/>
<rect x="275.7" y="114.8" width="1.6" height="1.6" fill="#3f86cc"/>
<rect x="280.8" y="111.2" width="1.6" height="1.6" fill="#3f86cc"/>
<rect x="283.8" y="111.1" width="1.6" height="1.6" fill="#3f86cc"/>
<rect x="282.7" y="117.6" width="1.6" height="1.6" fill="#3f86cc"/>
<rect x="285.1" y="123.4" width="1.6" height="1.6" fill="#3f86cc"/>
<rect x="288.2" y="127.3" width="1.6" height="1.6" fill="#3f86cc"/>
<rect x="292.5" y="128.0" width="1.6" height="1.6" fill="#3f86cc"/>
<rect x="294.9" y="131.6" width="1.6" height="1.6" fill="#3f86cc"/>
<rect x="300.4" y="130.0" width="1.6" height="1.6" fill="#3f86cc"/>
<rect x="299.2" y="134.9" width="1.6" height="1.6" fill="#3f86cc"/>
<rect x="301.9" y="137.3" width="1.6" height="1.6" fill="#3f86cc"/>
<rect x="308.4" y="139.9" width="1.6" height="1.6" fill="#3f86cc"/>
<rect x="309.3" y="135.4" width="1.6" height="1.6" fill="#3f86cc"/>
<rect x="382.4" y="214.8" width="1.6" height="1.6" fill="#3f86cc"/>
<rect x="388.6" y="216.6" width="1.6" height="1.6" fill="#3f86cc"/>
<rect x="384.1" y="217.5" width="1.6" height="1.6" fill="#3f86cc"/>
<rect x="380.5" y="219.5" width="1.6" height="1.6" fill="#3f86cc"/>
<rect x="378.8" y="223.9" width="1.6" height="1.6" fill="#3f86cc"/>
<rect x="375.2" y="229.4" width="1.6" height="1.6" fill="#3f86cc"/>
<rect x="370.2" y="232.4" width="1.6" height="1.6" fill="#3f86cc"/>
<rect x="374.5" y="237.0" width="1.6" height="1.6" fill="#3f86cc"/>
<rect x="372.8" y="240.9" width="1.6" height="1.6" fill="#3f86cc"/>
<rect x="368.2" y="245.1" width="1.6" height="1.6" fill="#3f86cc"/>
<rect x="361.9" y="244.6" width="1.6" height="1.6" fill="#3f86cc"/>
<rect x="362.9" y="248.1" width="1.6" height="1.6" fill="#3f86cc"/>
<rect x="362.9" y="253.6" width="1.6" height="1.6" fill="#3f86cc"/>
<rect x="360.7" y="258.4" width="1.6" height="1.6" fill="#3f86cc"/>
<rect x="353.7" y="257.4" width="1.6" height="1.6" fill="#3f86cc"/>
<rect x="348.2" y="262.0" width="1.6" height="1.6" fill="#3f86cc"/>
<rect x="340.4" y="261.8" width="1.6" height="1.6" fill="#3f86cc"/>
<rect x="334.5" y="266.3" width="1.6" height="1.6" fill="#3f86cc"/>
<rect x="327.9" y="263.8" width="1.6" height="1.6" fill="#3f86cc"/>
<rect x="320.6" y="265.0" width="1.6" height="1.6" fill="#3f86cc"/>
<rect x="314.4" y="263.3" width="1.6" height="1.6" fill="#3f86cc"/>
<rect x="310.8" y="270.6" width="1.6" height="1.6" fill="#3f86cc"/>
<rect x="307.8" y="278.3" width="1.6" height="1.6" fill="#3f86cc"/>
<rect x="308.5" y="284.6" width="1.6" height="1.6" fill="#3f86cc"/>
<rect x="304.3" y="288.8" width="1.6" height="1.6" fill="#3f86cc"/>
<rect x="320.4" y="266.0" width="1.6" height="1.6" fill="#3f86cc"/>
<rect x="319.0" y="272.7" width="1.6" height="1.6" fill="#3f86cc"/>
<rect x="322.9" y="277.1" width="1.6" height="1.6" fill="#3f86cc"/>
<rect x="327.5" y="279.5" width="1.6" height="1.6" fill="#3f86cc"/>
</g>
</g>
</svg></body></html>
